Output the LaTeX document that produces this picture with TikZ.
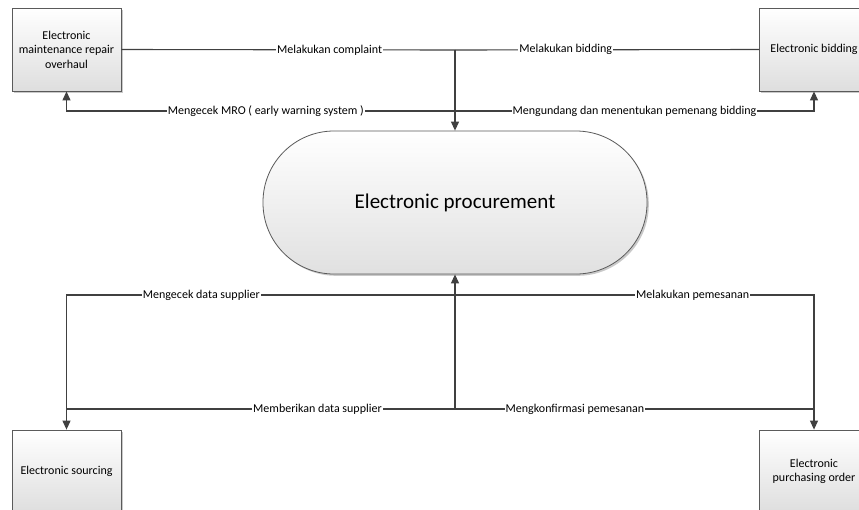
\documentclass[tikz,border=0pt]{standalone}
\usepackage{fontspec}
\setmainfont{Carlito}
\usetikzlibrary{arrows.meta,shadows}
\definecolor{linec}{HTML}{404040}
\definecolor{boxline}{HTML}{5A5A5A}
\tikzset{
  entity/.style={draw=boxline, line width=0.8pt, top color=white, bottom color=black!13,
    minimum width=109pt, minimum height=83pt, align=center, inner sep=2pt,
    font=\fontsize{12}{14.6}\selectfont,
    drop shadow={shadow xshift=1.8pt, shadow yshift=-1.8pt, opacity=0.35, fill=black!60}},
  process/.style={draw=boxline, line width=0.8pt, top color=white, bottom color=black!12,
    rounded corners=71pt, minimum width=384pt, minimum height=143pt,
    font=\fontsize{21}{25}\selectfont,
    drop shadow={shadow xshift=1.8pt, shadow yshift=-1.8pt, opacity=0.35, fill=black!60}},
  flow/.style={draw=linec, line width=1.1pt},
  arr/.style={flow, -{Triangle[length=9pt,width=8pt]}},
  lbl/.style={fill=white, inner sep=1pt, font=\fontsize{12}{14}\selectfont, text=black}
}
\begin{document}
\begin{tikzpicture}[x=1pt,y=-1pt]
\useasboundingbox (0,0) rectangle (859,509);
\clip (0,0) rectangle (859,509);
\fill[white] (0,0) rectangle (859,509);

\node[entity] (mro) at (66.5,49.5) {Electronic\\maintenance repair\\overhaul};
\node[entity] (bid) at (814,49.5) {Electronic bidding};
\node[entity] (src) at (66.5,471.5) {Electronic sourcing};
\node[entity] (po)  at (814,471.5) {Electronic\\purchasing order};
\node[process] (proc) at (455,202.5) {Electronic procurement};

\coordinate (tA) at (455,50);
\coordinate (tB) at (455,111);
\coordinate (bA) at (455,295);
\coordinate (bB) at (455,409);

% top
\draw[flow] (mro.east) -- node[lbl,pos=0.624]{Melakukan complaint} (tA);
\draw[flow] (bid.west) -- node[lbl,pos=0.636]{Melakukan bidding} (tA);
\draw[arr] (tA) -- (proc.north);
\draw[arr] (tB) -- node[lbl,pos=0.487]{Mengecek MRO ( early warning system )} (mro.south |- tB) -- (mro.south);
\draw[arr] (tB) -- node[lbl,pos=0.5]{Mengundang dan menentukan pemenang bidding} (bid.south |- tB) -- (bid.south);

% bottom
\draw[arr] (bA) -- node[lbl,pos=0.653]{Mengecek data supplier} (src.north |- bA) -- (src.north);
\draw[arr] (bA) -- node[lbl,pos=0.662]{Melakukan pemesanan} (po.north |- bA) -- (po.north);
\draw[flow] (src.north |- bB) -- node[lbl,pos=0.646]{Memberikan data supplier} (bB);
\draw[flow] (po.north |- bB) -- node[lbl,pos=0.666]{Mengkonfirmasi pemesanan} (bB);
\draw[arr] (bB) -- (proc.south);
\end{tikzpicture}
\end{document}
